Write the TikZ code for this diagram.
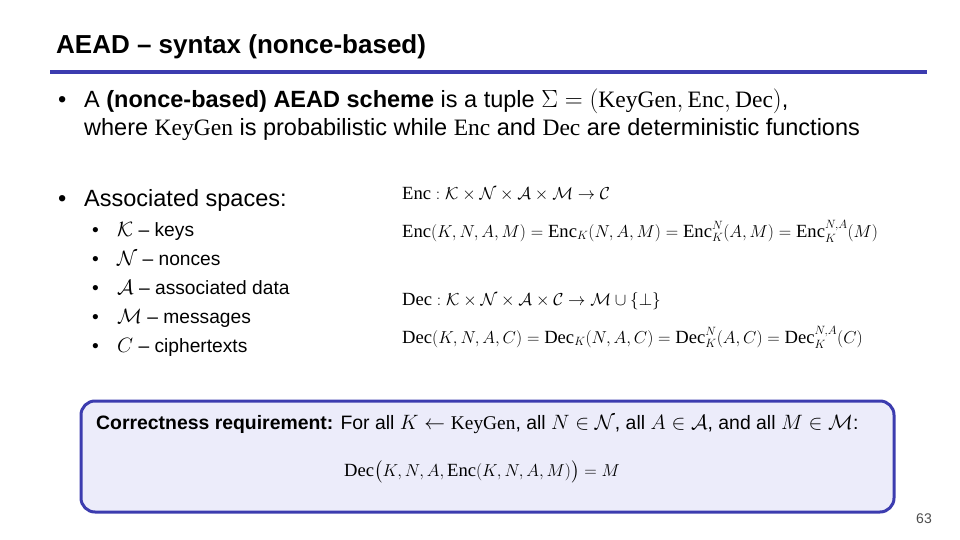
\documentclass[tikz,border=0pt]{standalone}
\usepackage{amsmath,amssymb}
\usepackage{fontspec}
\setmainfont{Liberation Sans}
\newfontfamily\serfam{Liberation Serif}
\newcommand{\mrm}[1]{\text{\serfam #1}}
\begin{document}
\begin{tikzpicture}[x=1pt,y=-1pt,
  txt/.style={anchor=base west,inner sep=0pt,font=\fontsize{23.5}{26}\selectfont},
  sub/.style={anchor=base west,inner sep=0pt,font=\fontsize{19.2}{22}\selectfont},
  mth/.style={anchor=base west,inner sep=0pt,font=\fontsize{18.6}{22}\selectfont}]
\definecolor{rule}{RGB}{60,60,175}
\definecolor{boxfill}{RGB}{236,236,250}
\useasboundingbox (0,0) rectangle (960,540);
\node[txt,font=\fontsize{26}{28}\selectfont\bfseries] (title) at (56,54) {AEAD -- syntax (nonce-based)};
\draw[rule,line width=4] (50,72) coordinate (r1) -- (927,72) coordinate (r2);
\node[txt] (b1) at (58,108) {•};
\node[txt] (l1) at (84,108) {A \textbf{(nonce-based) AEAD scheme} is a tuple $\Sigma=(\mrm{KeyGen},\mrm{Enc},\mrm{Dec})$,};
\node[txt] (l2) at (84,136) {where $\mrm{KeyGen}$ is probabilistic while $\mrm{Enc}$ and $\mrm{Dec}$ are deterministic functions};
\node[txt] (b2) at (58,206) {•};
\node[txt] (l3) at (84,206) {Associated spaces:};
\foreach \y/\t [count=\i] in {236/{$\mathcal{K}$ -- keys},265/{$\mathcal{N}$ -- nonces},294/{$\mathcal{A}$ -- associated data},323/{$\mathcal{M}$ -- messages},352/{$C$ -- ciphertexts}}{
  \node[sub] (sb\i) at (92,\y) {•};
  \node[sub] (s\i) at (117,\y) {\t};
}
\node[mth] (e1) at (402,199) {$\mrm{Enc}:\mathcal{K}\times\mathcal{N}\times\mathcal{A}\times\mathcal{M}\to\mathcal{C}$};
\node[mth] (e2) at (402,237) {$\mrm{Enc}(K,N,A,M)=\mrm{Enc}_K(N,A,M)=\mrm{Enc}_K^N(A,M)=\mrm{Enc}_K^{N,A}(M)$};
\node[mth] (d1) at (402,305) {$\mrm{Dec}:\mathcal{K}\times\mathcal{N}\times\mathcal{A}\times\mathcal{C}\to\mathcal{M}\cup\{\bot\}$};
\node[mth] (d2) at (402,343) {$\mrm{Dec}(K,N,A,C)=\mrm{Dec}_K(N,A,C)=\mrm{Dec}_K^N(A,C)=\mrm{Dec}_K^{N,A}(C)$};
\draw[rule,line width=3,fill=boxfill,rounded corners=14] (81,401) rectangle (894,512);
\node[sub,font=\fontsize{19.4}{20}\selectfont] (c1) at (96,429) {\textbf{Correctness requirement:} For all $K\leftarrow\mrm{KeyGen}$, all $N\in\mathcal{N}$, all $A\in\mathcal{A}$, and all $M\in\mathcal{M}$:};
\node[mth] (c2) at (344,476) {$\mrm{Dec}\bigl(K,N,A,\mrm{Enc}(K,N,A,M)\bigr)=M$};
\node[anchor=base east,inner sep=0pt,font=\fontsize{14}{16}\selectfont,text=black!70] (pg) at (932,523) {63};
\end{tikzpicture}
\end{document}
